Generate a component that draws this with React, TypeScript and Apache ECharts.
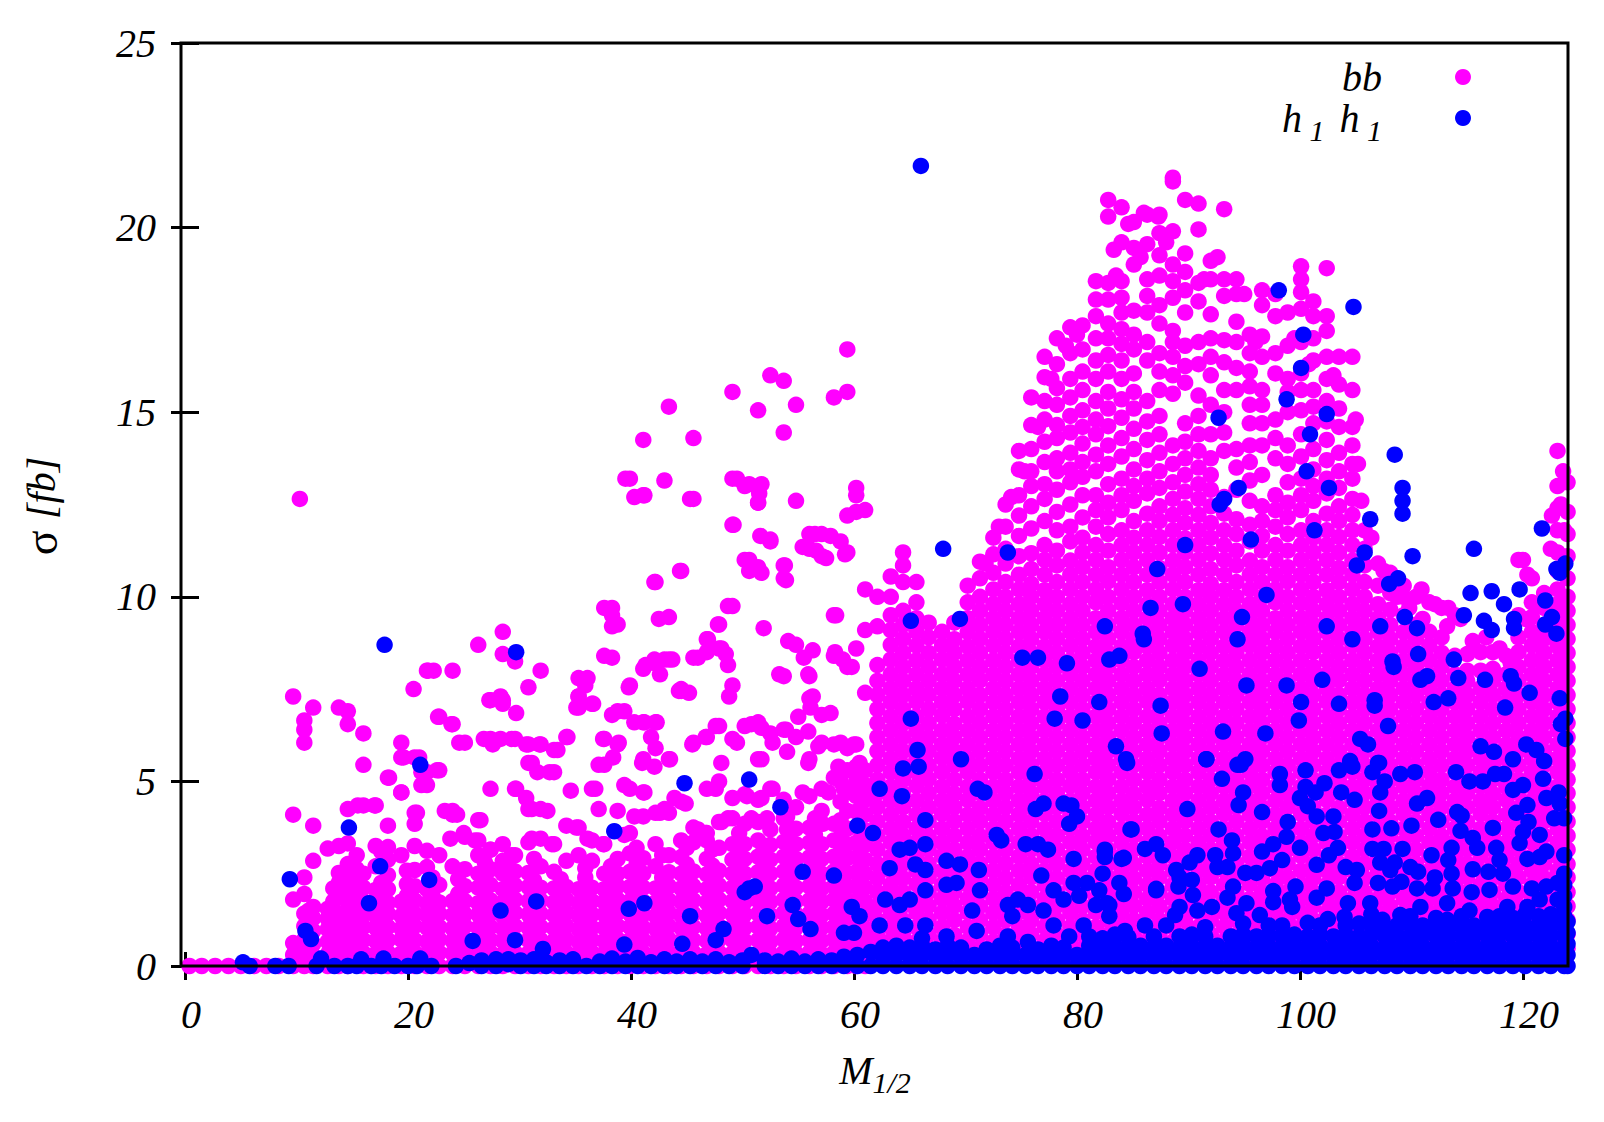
import React, { useEffect, useRef } from "react";
import * as echarts from "echarts";

const xTicks = [0, 20, 40, 60, 80, 100, 120];
const yTicks = [0, 5, 10, 15, 20, 25];

// sigma in fb, read by eye: [M1/2, then sigma*100 for every dot near that M1/2]
const bbColumns: number[][] = [
[0.4,0],[1.5,0],[2.7,0],[3.9,0],[5,0],[6.2,0],[7.3,0],[8.4,0],
[9.7,0,30,62,180,410,730],[10.3,1265],
[10.7,0,36,72,108,142,195,240,605,640,665],[11.5,0,28,60,95,130,160,285,380,700],
[12.8,0,32,66,100,128,155,318],[13.8,0,36,70,105,142,190,226,252,325,700],
[14.6,0,30,65,102,135,172,212,246,276,332,425,655,690],[16,0,35,70,106,140,176,212,250,435,545,630],
[17.1,0,33,68,104,136,172,206,270,325,435],[18.2,0,36,70,106,142,171,208,246,288,322,380,510],
[19.4,0,34,72,102,136,174,300,470,605,565],[20.6,0,36,70,108,142,178,216,260,325,385,415,565],
[21.7,0,32,66,104,138,170,208,268,312,490,525,800],[22.8,0,36,72,106,142,172,220,300,530,675],
[24,0,34,68,102,138,176,270,420,410,655,800],[25.1,0,36,72,108,140,176,216,262,350,605],
[26.3,0,34,66,104,140,170,212,250,300,340,395,870],[27.4,0,36,70,106,142,178,220,262,315,480,720,615],
[28.5,0,32,68,102,136,172,208,250,285,330,720,845,905],[29.6,0,36,72,108,144,180,218,256,300,480,615,825],
[30.8,0,34,70,104,140,176,214,252,335,425,550,600,755],[31.9,0,36,70,106,142,178,212,270,345,425,600,800],
[33.1,0,34,68,102,138,172,210,255,330,525,585],[34.2,0,36,72,108,144,180,214,285,380,620],
[35.3,0,32,66,100,136,170,208,300,375,700,730,780],[36.5,0,36,70,104,140,176,212,285,340,480,710],
[37.6,0,34,68,104,140,174,208,250,330,545,615,840,970],[38.8,0,36,72,108,144,180,216,250,290,420,600,690,925],
[39.9,0,34,70,106,142,176,214,255,305,360,480,760,1320],[41.1,0,36,70,104,140,174,212,250,292,405,470,560,660,805,1275,1425],
[42.2,0,32,66,102,136,172,210,270,330,415,590,660,820,1040],[43.4,0,36,72,108,144,178,216,254,300,415,560,830,945,1515],
[44.5,0,34,68,104,138,174,210,250,295,340,445,750,1070,745],[45.6,0,36,70,106,142,178,216,256,335,375,605,835,1265,1430],
[46.8,0,32,68,102,136,172,208,248,290,340,360,480,620,850,885],[47.9,0,36,72,108,144,180,218,258,320,390,500,650,860,925],
[49.1,0,34,70,106,140,176,212,250,288,330,400,455,615,760,975,1195,1320,1555],[50.2,0,36,68,104,140,174,210,250,290,330,385,465,650,1100,1300],
[51.4,0,34,70,106,142,178,216,254,296,340,390,450,560,660,1080,1255,1505,1295],[52.5,0,32,66,102,138,174,210,250,288,328,370,480,630,1150,1600],
[53.7,0,36,72,108,144,180,218,256,296,336,400,450,640,785,1050,1085,1445,1585],[54.8,0,34,68,104,140,176,212,252,290,330,372,430,620,870,1520,1260],
[56,0,36,70,106,142,178,216,254,294,334,375,460,560,725,785,1130,1170],[57.1,0,32,68,104,138,174,210,250,290,330,420,480,605,680,1110,1170],
[58.2,0,36,72,106,142,180,216,256,296,340,385,510,600,840,950,1540],[59.4,0,34,68,102,140,176,214,252,292,330,372,420,470,530,590,810,1120,1220,1670,1555],
[60.2,0,36,70,106,142,178,216,254,294,334,376,418,460,500,540,600,860,1230,1275,1295],[61,0,32,68,102,140,174,212,250,288,328,368,410,450,490,530,740,910,1020,1235],
[62.1,10,48,86,124,162,200,238,276,315,353,391,430,468,505,544,582,620,658,696,734,772,815,920,1000],
[63.3,30,68,105,144,182,220,258,296,335,372,410,448,486,525,562,600,638,676,715,752,790,830,870,910,950,1000,1055],
[64.4,48,85,124,163,200,238,277,314,353,390,430,468,505,544,582,620,658,696,734,772,810,848,886,924,962,1040,1085,1120],
[65.6,30,66,105,145,182,222,258,296,336,372,410,448,488,525,562,602,638,676,716,752,790,828,868,905,942,985,1040],
[66.7,48,86,125,163,200,240,277,315,352,391,430,468,506,544,582,620,658,696,735,772,810,848,890,930],
[67.9,28,68,105,144,182,220,258,298,335,372,412,448,486,525,564,600,638,678,715,752,790,830,868,905],
[69,48,84,124,163,200,238,276,315,353,392,430,466,505,544,582,620,656,696,734,772,810,848,885,930],
[70.2,30,68,106,145,182,220,258,296,334,372,410,450,486,525,562,600,638,676,716,752,790,828,866,905,942,985,1030],
[71.3,48,86,124,162,200,240,277,315,352,391,428,468,505,544,582,620,658,696,734,774,810,848,886,924,962,1000,1050,1095],
[72.5,30,66,105,144,182,220,258,296,335,372,410,448,486,525,562,600,638,676,715,752,790,828,868,905,942,980,1020,1065,1115,1160],
[73.6,48,85,124,163,200,238,277,315,353,392,430,468,505,544,582,620,658,696,734,772,810,848,886,924,962,1000,1040,1090,1130,1190,1250],
[74.8,30,68,105,145,182,220,258,296,335,372,410,448,486,525,562,600,638,676,715,752,790,828,866,905,942,980,1020,1060,1110,1165,1220,1275,1345,1395],
[75.9,48,86,124,162,200,240,276,315,353,391,430,468,505,544,582,620,658,696,734,772,810,848,886,924,962,1000,1035,1075,1118,1185,1245,1300,1340,1400,1465,1540],
[77.1,30,68,106,144,182,220,258,296,335,372,412,448,486,525,562,600,638,676,715,752,790,828,866,905,942,980,1018,1060,1100,1140,1205,1265,1305,1365,1420,1480,1530,1595,1650],
[78.2,48,84,124,163,200,238,277,315,353,391,430,468,505,544,582,620,658,696,734,772,810,848,886,924,962,1000,1040,1085,1125,1180,1230,1290,1340,1375,1430,1465,1520,1565,1630,1700],
[79.4,30,68,105,144,182,222,258,296,335,372,410,448,488,525,562,600,638,676,715,752,790,828,868,905,942,980,1020,1060,1098,1150,1190,1250,1310,1345,1390,1445,1490,1540,1590,1660,1730],
[80.5,48,86,124,162,200,238,276,315,352,391,430,468,505,544,582,620,658,696,734,772,810,848,886,924,962,1000,1040,1080,1120,1160,1215,1275,1325,1365,1415,1460,1505,1560,1610,1670,1735],
[81.7,30,66,105,145,182,220,258,296,336,372,410,448,486,525,562,600,638,676,715,752,790,828,866,905,942,985,1020,1060,1100,1140,1190,1235,1275,1340,1385,1440,1480,1530,1590,1640,1700,1760,1855,1805],
[82.8,48,85,124,163,200,240,277,315,353,390,430,468,506,544,582,620,658,696,734,772,810,848,886,924,962,1000,1042,1080,1125,1170,1215,1255,1305,1360,1410,1462,1510,1555,1610,1655,1700,1740,1805,1850,2030,2075],
[84,30,68,106,144,182,220,258,298,335,372,412,448,486,525,562,600,638,676,715,752,790,828,866,905,942,982,1020,1060,1100,1140,1180,1235,1275,1320,1380,1430,1485,1535,1590,1640,1685,1725,1770,1810,1855,1960,2055],
[85.1,48,84,124,163,200,238,276,315,353,392,430,466,505,544,582,620,658,696,734,772,810,850,886,924,962,1000,1040,1080,1120,1160,1205,1260,1300,1345,1400,1455,1510,1555,1605,1670,1710,1775,1900,1945,2015],
[86.3,30,68,105,145,182,220,258,296,334,372,410,450,486,525,562,600,638,676,716,752,790,828,866,905,942,980,1018,1060,1100,1140,1180,1225,1280,1320,1370,1425,1475,1530,1640,1690,1770,1815,1860,1955,2035],
[87.4,48,86,124,162,200,240,277,315,352,391,428,468,505,544,582,620,658,696,734,774,810,848,886,924,962,1000,1040,1078,1120,1162,1205,1245,1295,1340,1390,1440,1490,1560,1610,1660,1740,1790,1870,1925,1985,2035],
[88.6,30,66,105,144,182,220,258,296,335,372,410,448,486,525,562,600,638,676,715,752,790,828,868,905,942,980,1020,1060,1098,1140,1180,1222,1265,1310,1360,1410,1550,1600,1650,1690,1720,1810,1855,1900,1990,2125,2135],
[89.7,48,85,124,163,200,238,277,315,353,392,430,468,505,544,582,620,658,696,734,772,810,848,886,924,962,1000,1040,1080,1120,1158,1200,1240,1285,1330,1375,1420,1470,1580,1625,1680,1770,1830,1880,1930,2075],
[90.9,30,68,105,145,182,220,258,296,335,372,410,448,486,525,562,600,638,676,715,752,790,828,866,905,942,980,1018,1060,1100,1140,1180,1222,1265,1305,1350,1395,1440,1490,1545,1630,1690,1800,1850,1995,2065],
[92,48,86,124,162,200,240,276,315,353,391,430,468,505,544,582,620,658,696,734,772,810,848,886,924,962,1000,1035,1075,1118,1160,1200,1245,1290,1330,1375,1440,1520,1600,1650,1700,1765,1860,1910],
[93.2,30,68,106,144,182,220,258,296,335,372,412,448,486,525,562,600,638,676,715,752,790,828,866,905,942,980,1018,1060,1100,1140,1180,1225,1270,1395,1445,1500,1560,1635,1695,1815,1860,2050],
[94.3,48,84,124,163,200,238,277,315,353,391,430,468,505,544,582,620,658,696,734,772,810,848,886,924,962,1000,1040,1085,1125,1170,1210,1290,1350,1400,1560,1620,1690,1745,1820,1860],
[95.5,30,68,105,144,182,222,258,296,335,372,410,448,488,525,562,600,638,676,715,752,790,828,868,905,942,980,1020,1060,1098,1150,1195,1260,1315,1365,1410,1470,1520,1570,1610,1660,1710],
[96.6,48,86,124,162,200,238,276,315,352,391,430,468,505,544,582,620,658,696,734,772,810,848,886,924,962,1000,1040,1080,1125,1165,1205,1245,1330,1410,1470,1520,1560,1650,1705,1790,1830],
[97.8,30,66,105,145,182,220,258,296,336,372,410,448,486,525,562,600,638,676,715,752,790,828,866,905,942,985,1020,1060,1100,1140,1190,1235,1275,1375,1430,1480,1605,1660,1760,1820],
[98.9,48,85,124,163,200,240,277,315,353,390,430,468,506,544,582,620,658,696,734,772,810,848,886,924,962,1000,1042,1080,1125,1170,1215,1255,1310,1360,1410,1500,1555,1590,1680,1770],
[100.1,30,68,106,144,182,220,258,298,335,372,412,448,486,525,562,600,638,676,715,752,790,828,866,905,942,982,1020,1060,1100,1140,1180,1235,1275,1320,1380,1440,1505,1560,1605,1690,1780,1825,1860,1895],
[101.2,48,84,124,163,200,238,276,315,353,392,430,466,505,544,582,620,658,696,734,772,810,850,886,924,962,1000,1040,1080,1120,1160,1205,1260,1300,1345,1400,1470,1515,1560,1640,1700,1760,1800],
[102.4,30,68,105,145,182,220,258,296,334,372,410,450,486,525,562,600,638,676,716,752,790,828,866,905,942,980,1018,1060,1100,1140,1180,1225,1280,1320,1370,1425,1475,1530,1590,1650,1720,1760,1890],
[103.5,48,86,124,162,200,240,277,315,352,391,428,468,505,544,582,620,658,696,734,774,810,848,886,924,962,1000,1040,1078,1120,1162,1205,1245,1295,1340,1390,1460,1510,1575,1650],
[104.7,30,66,105,144,182,220,258,296,335,372,410,448,486,525,562,600,638,676,715,752,790,828,868,905,942,980,1020,1060,1098,1140,1180,1222,1265,1320,1360,1410,1460,1560,1650],
[105.8,48,85,124,163,200,238,277,315,353,392,430,468,505,544,582,620,658,696,734,772,810,848,886,924,962,1000,1040,1085,1130,1180],
[107,30,68,105,145,182,220,258,296,335,372,410,448,486,525,562,600,638,676,715,752,790,828,866,905,942,980,1030,1090],
[108.1,48,86,124,162,200,240,276,315,353,391,430,468,505,544,582,620,658,696,734,772,810,848,886,924,965,1010,1065],
[109.3,30,68,106,144,182,220,258,296,335,372,412,448,486,525,562,600,638,676,715,752,790,828,866,905,950,1000,1030],
[110.4,48,84,124,163,200,238,277,315,353,391,430,468,505,544,582,620,658,696,734,772,810,848,886,924,1000],
[111.6,30,68,105,144,182,222,258,296,335,372,410,448,488,525,562,600,638,676,715,752,790,828,868,905,985],
[112.7,48,86,124,162,200,238,276,315,352,391,430,468,505,544,582,620,658,696,734,772,810,848,890,970],
[113.9,30,66,105,145,182,220,258,296,336,372,410,448,486,525,562,600,638,676,715,752,790,840,950],
[115,48,85,124,163,200,240,277,315,353,390,430,468,506,544,582,620,658,696,734,772,800,845],
[116.2,30,68,106,144,182,220,258,298,335,372,412,448,486,525,562,600,638,676,715,752,800,850],
[117.3,48,84,124,163,200,238,276,315,353,392,430,466,505,544,582,620,658,696,734,772,805,850],
[118.5,30,68,105,145,182,220,258,296,334,372,410,450,486,525,562,600,638,676,716,752,790,840],
[119.6,48,86,124,162,200,240,277,315,352,391,428,468,505,544,582,620,658,696,734,774,810,850,890,950,1100],
[120.8,30,66,105,144,182,220,258,296,335,372,410,448,486,525,562,600,638,676,715,752,790,828,868,905,945,985,1050],
[121.9,48,85,124,163,200,238,277,315,353,392,430,468,505,544,582,620,658,696,734,772,810,848,886,924,970,1010],
[123.1,30,68,105,145,182,220,258,296,335,372,410,448,486,525,562,600,638,676,715,752,790,828,866,905,942,980,1020,1070,1120,1180,1240,1300,1395],
[124,48,86,124,162,200,240,276,315,353,391,430,468,505,544,582,620,658,696,734,772,810,848,886,924,962,1000,1050,1110,1170,1230,1310],
// dots between the columns of the low, filled band on the left
[11.1,18,52,90,125,150],[13.3,16,50,84,120,175,210],[15.4,14,50,86,120,158,195,230,262,300],[17.6,18,52,88,120,155,190,225,310],[19.9,18,54,90,122,155,190,222,258],[22.2,16,50,86,122,155,190,240],[24.5,16,52,88,120,158,195,235],[26.9,18,54,88,124,158,195,232,280],[29,16,52,90,126,162,198,238,275],[31.3,18,54,88,124,160,196,232,290],[33.7,16,50,86,122,156,192,235],[35.9,18,54,88,124,158,194,240,265],[38.2,16,52,88,122,158,194,230,270],[40.5,18,54,88,124,160,194,232,275,320],[42.8,16,50,86,122,156,192,240,300],[45,18,54,88,124,158,194,230,275,320],[47.3,16,52,90,124,158,194,232,272,315],[49.7,18,54,88,122,158,194,230,270,310,360],[51.9,16,50,86,122,156,192,232,275,318],[54.2,18,54,88,124,160,196,232,272,310,352],[56.5,16,52,88,124,160,194,234,272,312,355,400],[58.8,18,54,86,120,158,194,232,272,310,350,395,445,500],
];

// further separately visible pink dots: [M1/2, sigma]
const bbDots: number[] = [
39.5,13.2,43,13.15,49.5,13.2,50.6,13.05,51.7,13.05,51.5,12.8,51.4,12.55,40.3,12.7,41.2,12.75,45.3,12.65,49.2,11.95,51.6,11.65,52.5,11.55,56.5,11.7,57.9,11.65,58.8,11.5,55.4,11.35,56.6,11.25,57.5,11.05,59.2,11.15,50.6,11,50.6,10.7,51.7,10.65,53.8,10.85,53.9,10.45,44.4,10.7,42.1,10.4,38.3,9.7,38.3,9.5,38.3,9.2,42.5,9.4,48.7,9.75,47.8,9.25,46.9,8.85,51.9,9.15,54.1,8.8,58.4,9.5,48.1,8.6,48.5,8.45,48.7,8.15,46,8.35,43,8.3,43.7,8.3,41.3,8.15,42.1,8.3,42.6,7.9,38.3,8.35,56.3,8.55,55.5,8.35,58.3,8.5,59,8.3,59.8,8.1,53.3,7.9,55.9,7.9,36.1,7.8,35.9,7.6,39.8,7.55,35.3,7.3,35.1,7,36.6,7.1,38.3,6.8,39.4,6.9,40.3,6.6,41.2,6.6,42.3,6.6,44.3,7.45,45.2,7.4,48.8,7.3,56.3,7.3,56.1,7,57.9,6.85,47.6,6.5,50.8,6.55,51.7,6.45,53.9,6.4,52.7,6.05,55.9,6.35,55,6.75,34.3,6.2,33.4,5.85,37.5,6.15,38.9,6.05,41.8,6.2,45.5,6,46.7,6.2,49.5,6.05,58.8,6.05,60,6,56.8,5.95,54,5.8,37.1,5.45,38.4,5.65,41,5.5,42.1,5.4,43.5,5.6,48.1,5.5,51.7,5.6,55.9,5.5,58.6,5.4,60.5,5.5,31.1,5.5,31.6,5.25,32.7,5.25,29.7,4.8,30.6,4.55,31.1,4.25,32.5,4.2,34.6,4.75,36.8,4.8,39.4,4.9,41.2,4.7,43.9,4.55,44.9,4.4,47.6,4.8,50.4,4.6,51.7,4.55,52.7,4.8,55.4,4.7,57.7,4.7,59.1,4.8,61.2,4.8,37.1,4.25,40.3,4.05,42.6,4.15,43,4.25,46,3.7,46.7,3.6,48.1,3.9,48.7,4,50.8,4,52.2,4,54,4.05,57.2,3.85,54,3.7,35.1,3.75,36.1,3.45,37.5,3.3,39.4,3.55,31.1,3.45,29.3,3,27.4,3.15,32.9,3.3,
21.8,8,22.3,8,20.5,7.5,22.7,6.75,23.9,6.55,24.6,6.05,28.3,7.3,27.3,7.2,28.5,7.1,29.7,6.85,26.8,6.15,27.6,6,28.3,6.15,29.3,6.15,30.6,6,31.8,6,19.6,5.65,21,5.65,21.2,5.25,22.6,5.3,18.3,5.1,19.4,4.7,21.2,4.9,15.5,4.35,17,4.35,20.8,4.15,23.3,4.2,24.4,4.1,26.5,3.95,25,3.6,26,3.4,23.8,3.45,
76.5,14.6,77.7,15.9,79,16.8,80,17.1,75.3,13.4,74.1,12.7,73,11.9,71.8,10.9,83.3,19.4,84.6,20.1,86,20.4,87.3,20.3,85.7,19.2,83.5,18.7,88,19.6,92.6,19.2,95,18.2,91.4,18.6,96,16.9,99.5,17,100.8,16.3,103,16,105,14.8,105.2,13.6,105.5,12.6,
106.4,11.6,107.5,10.7,108.7,10,109.8,9.7,110.9,10.2,111,9.4,112.1,9.8,113.2,9.2,113.3,9.7,114.4,9.4,115.5,8.8,116.7,8.9,117.9,8.6,118.9,8.2,120.2,9.4,120.4,10.6,121.3,9.8,122.5,11.3,122.6,12.2,123.6,13.4,123.4,12.5,123.7,11.8,120,11,
];

// [M1/2, sigma] pairs of separately visible blue dots, read by eye
const h1Dots: number[] = [
66,21.67,98.1,18.3,104.8,17.85,100.1,16.2,100.3,17.1,98.8,15.35,102.4,14.95,92.7,14.85,100.9,14.4,100.6,13.4,102.6,12.95,94.5,12.95,93.2,12.65,92.8,12.5,101.3,11.8,108.5,13.85,109.2,12.95,109.2,12.6,109.2,12.25,106.3,12.1,105.8,11.2,110.1,11.1,115.6,11.3,121.7,11.85,95.6,11.55,89.7,11.4,68,11.3,73.8,11.2,87.2,10.75,97,10.05,105.1,10.85,108,10.35,108.8,10.5,115.3,10.1,117.2,10.15,118.3,9.8,119.7,10.2,122,9.9,123.3,10.65,123.8,10.9,123,10.75,
89.5,9.8,86.6,9.7,94.8,9.45,114.7,9.5,116.5,9.35,117.2,9.1,119.2,9.4,119.2,9.15,122,9.25,122.6,9.45,123,9,109.4,9.45,110.5,9.15,107.2,9.2,102.4,9.2,104.7,8.85,94.4,8.85,65.1,9.35,69.5,9.4,82.5,9.2,85.9,9,86,8.85,82.9,8.3,83.8,8.4,75.1,8.35,76.5,8.35,79.1,8.2,91,8.05,108.3,8.25,108.4,8.1,110.6,8.45,110.8,7.75,111.4,7.85,114.2,7.8,113.8,8.3,116.6,7.75,118.9,7.85,119.2,7.65,102,7.75,95.2,7.6,98.8,7.6,78.5,7.3,82,7.15,100.1,7.15,103.5,7.1,106.7,7.2,106.7,7.05,87.5,7.05,112,7.15,113.3,7.25,118.4,7,120.6,7.4,123.3,7.25,78,6.7,65.1,6.7,80.5,6.65,99.9,6.65,107.9,6.5,123.4,6.55,123.8,6.7,87.6,6.3,96.9,6.3,93.1,6.35,105.4,6.15,106.1,6,123.8,6.15,65.7,5.85,83.5,5.95,116.2,5.95,117.4,5.8,120.3,6,121.2,5.85,69.6,5.6,84.4,5.6,91.6,5.6,95.1,5.6,94.4,5.45,104.5,5.55,107,5.5,65.8,5.4,76.2,5.2,64.4,5.35,62.3,4.8,64.3,4.6,71.1,4.8,71.7,4.7,44.8,4.95,50.6,5.05,53.4,4.3,76.3,4.25,77,4.4,78.8,4.4,79.5,4.35,80,4.05,79.3,3.85,
17.9,8.7,29.7,8.5,21.1,5.45,14.7,3.75,17.5,2.7,9.4,2.35,21.9,2.33,16.5,1.7,28.3,1.5,31.5,1.75,10.8,.95,11.3,.73,25.8,.68,29.6,.7,32.1,.46,38.5,3.65,60.3,3.8,61.7,3.6,66.4,3.95,72.8,3.55,73.2,3.4,
84.5,5.5,91.6,5.6,94.7,5.45,93,5.07,98.2,5.2,98.2,4.9,100.5,5.3,100.5,4.85,102.2,4.95,101.4,4.7,100,4.55,100.7,4.33,101.5,4.05,103,4.05,103.7,4.7,104.9,4.5,103.5,5.3,104.7,5.4,107.1,5.5,106.5,5.25,107.6,5,109,5.2,110.3,5.25,107.1,4.2,107.2,4.7,110.5,4.4,111.4,4.55,114,5.25,115.2,5,116.4,5,117.5,5.2,118.3,5.2,119.1,4.77,120,4.9,121.8,5.07,121.9,5.55,119.1,5.6,123.2,4.7,122.1,4.55,123.3,4.4,120.4,4.36,119.4,4.15,122.8,4,114.1,4.17,114.5,4.07,112.4,3.96,110,3.8,108.2,3.73,106.5,3.7,117.3,3.74,120.5,3.9,114.4,3.66,115.5,3.47,115.9,3.2,117.6,3.2,120,3.63,121.5,3.55,119.7,3.33,122.1,3.1,121.5,2.95,120.4,2.9,117.9,2.87,113.6,3.2,113.3,2.87,111.8,3,109.2,3.17,107.5,3.17,106.5,3.17,108.5,2.8,107.2,2.8,108.1,2.6,109.9,2.68,110.6,2.55,112.1,2.4,113.6,2.5,115.5,2.62,116.9,2.55,118.2,2.5,119.1,2.15,120.8,2.1,122.1,2.15,123.1,2.25,123.1,1.8,121.5,1.8,
89.9,4.25,84.9,3.7,92.7,3.7,93.9,3.4,94,3.05,96.6,4.17,94.9,4.7,94.5,4.36,98.9,3.9,98.8,3.5,97.6,3.3,96.6,3.1,100,3.2,102.1,3.6,103.1,3.63,103.4,3.2,102.6,3,101.5,2.74,104.1,2.68,105.1,2.6,104.9,2.25,102.4,2.1,101.5,1.85,99.6,2.15,99.1,1.8,97.6,2.03,97.6,1.73,98.4,2.87,97.3,2.65,96.1,2.52,95.1,2.52,94,2.15,93.5,1.85,86.1,3.17,87.7,3,84.2,2.93,82.5,3.1,82.3,2.5,83.8,2.25,84.2,1.95,87.1,2.09,82.7,1.7,
90.8,3,92.4,3,90.1,2.8,89.2,2.4,89.1,2.15,90.3,2.33,92.6,2.68,93.5,2.68,90.4,1.92,89.2,1.6,88.8,1.38,90.8,1.5,92.1,1.6,95.2,1.7,96.4,1.38,94.3,1.43,99.3,1.6,100.7,1.17,102.5,1.27,104.3,1.7,104,1.33,107,2.25,106.3,1.7,108.3,2.15,110.5,2.1,109.1,2.28,111.9,2.1,113.7,2.1,115.4,2,117,2.06,110.8,1.6,109,1.38,107.4,1.25,113.2,1.7,115.2,1.5,116.8,1.33,118.6,1.6,120.4,1.6,122.4,1.33,123.6,1.17,113.2,1.25,
64.1,3.15,65,3.2,66.4,3.3,65.5,2.75,66.4,2.6,68.3,2.85,69.5,2.75,71.2,2.6,63.2,2.65,58.2,2.45,55.4,2.55,62.8,1.8,64.1,1.65,65,1.8,66.4,2.05,68.3,2.2,69.2,2.25,71.3,2.05,59.8,1.6,59.1,.9,60,.9,56.1,1,55,1.27,54.5,1.65,52.2,1.35,50.6,2.1,51.1,2.15,50.2,2,45.3,1.35,48.3,1,47.6,.7,44.6,.6,41.2,1.7,39.8,1.55,39.4,.58,75.4,3.3,76.5,3.3,77.4,3.15,76.8,2.45,79.7,2.9,79.7,2.25,80.9,2.25,82.5,3.15,82.5,2.95,84,2.9,84.8,3.7,87.1,3.3,88.9,2.6,87.1,2.05,77.9,2.05,78.8,1.8,80.2,1.9,82,2.05,81.7,1.65,82.9,1.65,82.9,1.35,74.7,1.8,75.6,1.65,77,1.5,73.8,1.65,74.2,1.35,70.6,1.5,71,.95,73.8,.8,75.6,.65,77.9,1.1,79.3,.8,80.6,1.1,66.4,1.1,64.6,1.1,68.3,.8,84.3,.95,86.1,1.1,88,1.1,90.3,.8,60.5,1.35,62.3,1.1,
];

// blue band along the axis: [M1/2, then sigma*100]
const h1Band: number[][] = [
[5.2,10],[5.8,0],[8.1,0],[9.3,0],[11.8,0],[12.2,20],[13.4,0],[14.6,0],[15.8,18],[15.4,0],[16.7,0],[17.8,20],[17.6,0],[18.8,0],[20,0],[21.1,20],[20.8,0],[22.1,0],[24.3,0],[25.5,8],[26.6,0,15],[27.9,0,18],[29,5,18],[30.1,0,15],[31.3,0,18],[32.4,0,10],[33.6,0,15],[34.8,0,18],[36,0],[37.2,0,12],[38.3,0,20],[39.5,0,12],[40.6,0,22],[41.8,0,10],[43,0,18],[44.1,0,12],[45.3,0,18],[46.4,0,12],[47.6,0,18],[48.8,0,10],[50,0,15],[50.8,30],[52,0,15],[53.2,0,12],[54.4,0,20],[55.6,0,12],[56.8,0,18],[58,0,15],[59.1,0,25],[60.3,0,30],[61.5,0,38],[62.6,0,25,50],[63.8,0,30,55],[65,0,25,50],[66.1,0,30,55,75],[67.3,0,25,45],[68.4,0,30,55],[69.6,0,25,50],[70.8,0,30],[71.9,0,25,45],[73.1,0,30,55],[74.2,0,25,50],[75.4,0,30],[76.5,0,25,45],[77.7,0,30,55],[78.8,0,25,50],[80,0,30],[81.1,0,28,55,80],[82.3,0,25,50,75],[83.4,0,30,55,85],[84.6,0,25,50,78],[85.7,0,30,55],[86.9,0,25,52,80],[88,0,30,55],[89.2,0,25,50,80],[90.3,0,30,55,85],[91.5,0,25,52,80,105],[92.6,0,30,55],[93.8,0,25,50,80],[94.9,0,30,58,85,115],[96.1,0,25,50,80],[97.2,0,30,55,85,110],[98.4,0,25,50,80,110],[99.5,0,30,58,85],[100.7,0,25,52,80],[101.8,0,30,55,85,110],[103,0,25,50,80],[104.1,0,30,58,85,110],[105.3,0,25,50,80,115],[106.4,0,30,55,85,110,140],[107.6,0,25,50,80,105],[108.7,0,30,58,85,110],[109.9,0,25,52,80,110,135],[111,0,30,55,85,110],[112.2,0,25,50,80,108,130],[113.3,0,30,58,85,110],[114.5,0,25,50,80,108,135],[115.6,0,30,55,85,110],[116.8,0,25,52,80,105],[117.9,0,30,55,85,110,135],[119.1,0,25,50,80,108,130],[120.2,0,30,58,85,110,140],[121.4,0,25,50,80,108,135],[122.5,0,30,55,85,110,140],[123.7,0,25,50,80,108,135,160,190,220,250,300,400],[124,0,30,60,90,120],
];

function fromColumns(cols: number[][]): number[][] {
  const out: number[][] = [];
  cols.forEach((c) => c.slice(1).forEach((v) => out.push([c[0], v / 100])));
  return out;
}
function fromPairs(flat: number[]): number[][] {
  const out: number[][] = [];
  for (let i = 0; i + 1 < flat.length; i += 2) out.push([flat[i], flat[i + 1]]);
  return out;
}

const SERIF = "'Liberation Serif', serif";
const label = { fontFamily: SERIF, fontStyle: "italic", color: "#000" };
const DOT = 16.5;

export default function App() {
  const ref = useRef<HTMLDivElement>(null);
  useEffect(() => {
    document.body.style.margin = "0";
    const chart = echarts.init(ref.current!, undefined, { renderer: "svg" });
    const tickStyle = { show: true, inside: true, length: 14, lineStyle: { color: "#000", width: 3 } };
    const mkX = (position: string, show: boolean) => ({
      type: "value", position, min: -0.36, max: 124.04, splitLine: { show: false },
      axisLine: { show: false },
      axisTick: { ...tickStyle, customValues: xTicks },
      axisLabel: { show, customValues: xTicks, margin: 28, fontSize: 40, padding: [0, 0, 0, 12], ...label, formatter: (v: number) => String(v) },
    });
    const mkY = (position: string, show: boolean) => ({
      type: "value", position, min: yTicks[0], max: yTicks[yTicks.length - 1], interval: 5, splitLine: { show: false },
      axisLine: { show: false },
      axisTick: tickStyle,
      axisLabel: { show, margin: 25, fontSize: 40, ...label },
    });
    const sub = { fontFamily: SERIF, fontStyle: "italic", fontSize: 30, fill: "#000", padding: [24, 0, 0, 0] };
    const main = { fontFamily: SERIF, fontStyle: "italic", fontSize: 40, fill: "#000" };
    chart.setOption({
      animation: false,
      backgroundColor: "#fff",
      grid: { left: 181, top: 43, width: 1387, height: 923, containLabel: false },
      xAxis: [mkX("bottom", true), mkX("top", false)],
      yAxis: [mkY("left", true), mkY("right", false)],
      series: [
        { name: "bb", type: "scatter", clip: false, symbolSize: DOT, itemStyle: { color: "#ff00ff", opacity: 1 }, data: [...fromColumns(bbColumns), ...fromPairs(bbDots)], silent: true },
        { name: "h1 h1", type: "scatter", clip: false, symbolSize: DOT, itemStyle: { color: "#0000ff", opacity: 1 }, data: [...fromColumns(h1Band), ...fromPairs(h1Dots)], silent: true },
      ],
      graphic: [
        { type: "rect", z: 100, shape: { x: 181, y: 43, width: 1387, height: 923 }, style: { fill: "none", stroke: "#000", lineWidth: 3 }, silent: true },
        { type: "text", z: 101, x: 1382, y: 77, style: { text: "bb", align: "right", verticalAlign: "middle", fill: "#000", fontFamily: SERIF, fontStyle: "italic", fontSize: 40 } },
        { type: "text", z: 101, x: 1382, y: 118, style: { text: "{a|h}{b| 1  }{a|h}{b| 1}", align: "right", verticalAlign: "middle", fill: "#000", rich: { a: main, b: sub } } },
        { type: "circle", z: 101, shape: { cx: 1463, cy: 77, r: 8 }, style: { fill: "#ff00ff" } },
        { type: "circle", z: 101, shape: { cx: 1463, cy: 118, r: 8 }, style: { fill: "#0000ff" } },
        { type: "text", z: 101, x: 875, y: 1070, style: { text: "{a|M}{b|1/2}", align: "center", verticalAlign: "middle", fill: "#000", rich: { a: main, b: sub } } },
        { type: "text", z: 101, x: 41, y: 506, rotation: Math.PI / 2, style: { text: "{n|σ }{a|[fb]}", align: "center", verticalAlign: "middle", fill: "#000",
          rich: { n: { fontFamily: SERIF, fontSize: 46, fill: "#000" }, a: { fontFamily: SERIF, fontStyle: "italic", fontSize: 40, fill: "#000" } } } },
      ],
    });
    return () => chart.dispose();
  }, []);
  return <div ref={ref} style={{ position: "absolute", left: 0, top: 0, width: 1604, height: 1122 }} />;
}
